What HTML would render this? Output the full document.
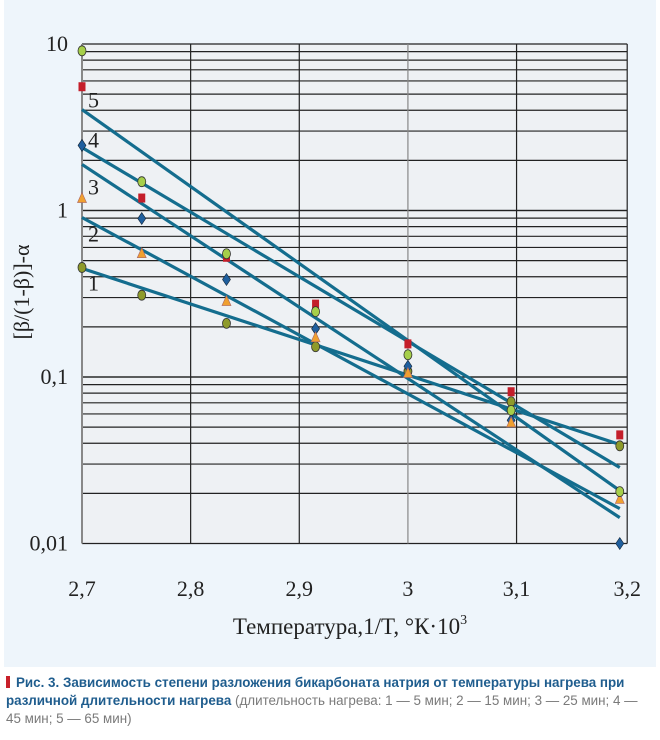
<!DOCTYPE html>
<html><head><meta charset="utf-8">
<style>
body{margin:0;width:660px;height:740px;background:#fff;overflow:hidden;font-family:"Liberation Sans",sans-serif}
#panel{position:absolute;left:4px;top:0;width:652px;height:667px;background:#eef5fb}
#cap{position:absolute;left:6px;top:674px;width:650px;font-size:13.4px;line-height:18px;color:#7a7a7a}
#cap b{color:#1f5d8e;font-weight:bold}
#cap .m{display:inline-block;width:4px;height:12px;background:#c8202a;margin-right:6px;vertical-align:-1px}
</style></head><body>
<div id="panel"></div>
<svg id="chart" width="660" height="667" style="position:absolute;left:0;top:0" font-family="'Liberation Serif',serif"></svg>
<div id="cap"><span class="m"></span><b>Рис. 3. Зависимость степени разложения бикарбоната натрия от температуры нагрева при различной длительности нагрева</b> (длительность нагрева: 1 — 5 мин; 2 — 15 мин; 3 — 25 мин; 4 — 45 мин; 5 — 65 мин)</div>
<script>
const xTicks=[2.7,2.8,2.9,3.0,3.1,3.2];
const xTickLabels=["2,7","2,8","2,9","3","3,1","3,2"];
const yTicks=[10,1,0.1,0.01];
const yTickLabels=["10","1","0,1","0,01"];
const pointX=[2.7,2.755,2.833,2.915,3.0,3.095,3.195];
const seriesGreen=[9.1,1.49,0.55,0.247,0.136,0.063,0.0205];
const seriesRed=[5.5,1.18,0.52,0.272,0.157,0.081,0.0446];
const seriesBlue=[2.46,0.895,0.385,0.195,0.116,0.055,0.01];
const seriesTri=[1.18,0.55,0.284,0.172,0.105,0.053,0.0184];
const seriesOlive=[0.455,0.31,0.21,0.152,0.108,0.071,0.0386];
const lineX=[2.7,3.195];
const lineLabels=["1","2","3","4","5"];
const lineStart=[0.449,0.908,1.89,2.39,4.04];
const lineEnd=[0.0393,0.0162,0.0143,0.0286,0.0208];
const NS="http://www.w3.org/2000/svg";
const svg=document.getElementById('chart');
const X0=82,XS=1086.4,Y10=44,DEC=166.5;
const xs=v=>X0+(v-2.7)*XS;
const ys=v=>Y10+(1-Math.log10(v))*DEC;
function mk(t,a,p){const e=document.createElementNS(NS,t);for(const k in a)e.setAttribute(k,a[k]);(p||svg).appendChild(e);return e;}
const plot=mk('rect',{x:xs(2.7),y:ys(10),width:xs(3.2)-xs(2.7)+2,height:ys(0.01)-ys(10),fill:'#eef1f4'});


const grid=mk('g',{stroke:'#222','stroke-width':1.2});


for(let d=0;d<3;d++){for(let m=1;m<=10;m++){const y=ys(m*Math.pow(10,-d));mk('line',{x1:xs(2.7),x2:xs(3.2)+2,y1:y,y2:y},grid);}}
xTicks.forEach((t,i)=>{const x=i==5?xs(3.2)+2:xs(t);mk('line',{x1:x,x2:x,y1:ys(10),y2:ys(0.01),stroke:i==0||i==3?'#888':'#222','stroke-width':i==0?2:1.2},grid);});
xTicks.forEach((t,i)=>{const e=mk('text',{x:xs(t)+(i==5?2:0),y:596,'font-size':22,'text-anchor':'middle',fill:'#222'});e.textContent=xTickLabels[i];

});
yTicks.forEach((t,i)=>{const e=mk('text',{x:68,y:ys(t)+7,'font-size':22,'text-anchor':'end',fill:'#222'});e.textContent=yTickLabels[i];

});
const xt=mk('text',{x:350,y:634,'font-size':23,'text-anchor':'middle',fill:'#222'});xt.innerHTML='Температура,1/T, °К·10<tspan dy="-10" font-size="14">3</tspan>';


const yt=mk('text',{x:0,y:0,'font-size':22,'text-anchor':'middle',fill:'#222',transform:'translate(29,292) rotate(-90)'});yt.textContent='[β/(1-β)]-α';


lineStart.forEach((s,i)=>{const l=mk('line',{x1:xs(lineX[0]),y1:ys(s),x2:xs(lineX[1]),y2:ys(lineEnd[i]),stroke:'#146d8e','stroke-width':3.2});


const t=mk('text',{x:xs(lineX[0])+6,y:ys(s)+(i==4?-2:i==0?22:i==1?24:i==2?30:0),'font-size':22,fill:'#222'});t.textContent=lineLabels[i];

});
function marker(kind,x,y){let e;
if(kind=='olive')e=mk('ellipse',{cx:x,cy:y,rx:4,ry:5,fill:'#8e9a2a',stroke:'#333','stroke-width':0.8});
else if(kind=='green')e=mk('ellipse',{cx:x,cy:y,rx:4,ry:5,fill:'#a6cf4a',stroke:'#333','stroke-width':0.8});
else if(kind=='red')e=mk('rect',{x:x-3.5,y:y-5,width:7,height:9,fill:'#c41e2a'});
else if(kind=='blue')e=mk('path',{d:`M${x} ${y-6}L${x+4} ${y}L${x} ${y+6}L${x-4} ${y}Z`,fill:'#1f5f9e',stroke:'#123','stroke-width':0.6});
else e=mk('path',{d:`M${x} ${y-6}L${x+4.5} ${y+4}L${x-4.5} ${y+4}Z`,fill:'#f0a030',stroke:'#a66','stroke-width':0.6});
return e;}
[['olive',seriesOlive],['blue',seriesBlue],['tri',seriesTri],['red',seriesRed],['green',seriesGreen]].forEach(([k,arr])=>{arr.forEach((v,i)=>{const e=marker(k,xs(pointX[i]),ys(v));

});});
</script>
</body></html>
